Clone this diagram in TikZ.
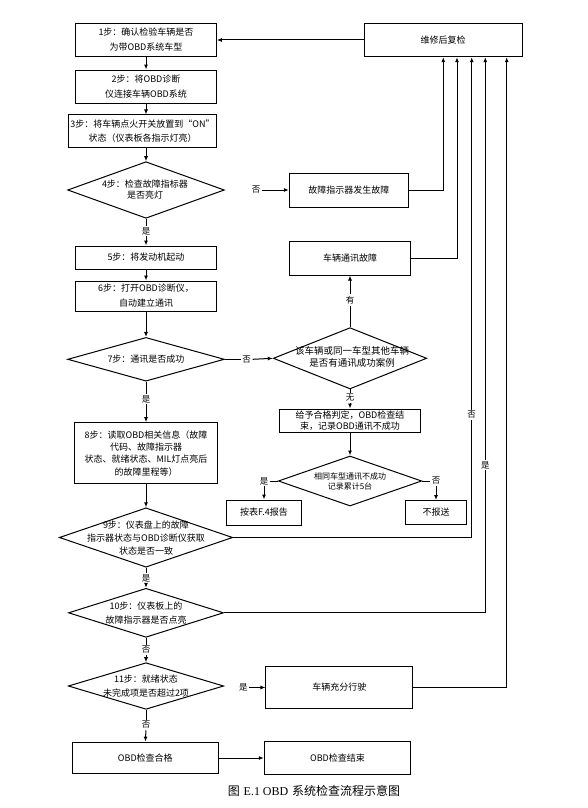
\documentclass[tikz,border=0pt]{standalone}
\usepackage{fontspec}
\newfontfamily\cjk{Noto Sans CJK SC}
\newfontfamily\serifl{Liberation Serif}
\usetikzlibrary{arrows.meta,shapes.geometric}
\tikzset{
  bx/.style={draw, line width=1pt, inner sep=1pt, align=center, font=\cjk\fontsize{9}{12}\selectfont},
  dia/.style={draw, diamond, line width=1pt, inner sep=0pt},
  dtxt/.style={align=center, font=\cjk\fontsize{9}{12}\selectfont, inner sep=0pt},
  lbl/.style={font=\cjk\fontsize{8.5}{10}\selectfont, inner sep=1.5pt},
  ln/.style={line width=1pt},
  arr/.style={line width=1pt, -{Latex[length=5pt,width=4pt]}},
}
\begin{document}
\begin{tikzpicture}[x=1pt,y=-1pt]
\useasboundingbox (0,0) rectangle (588,808);
% boxes
\node[bx, minimum width=158pt, minimum height=33.4pt] (recheck) at (443,40) {维修后复检};
\node[bx, minimum width=140.7pt, minimum height=33.4pt, font=\cjk\fontsize{9}{15}\selectfont] (b1) at (146,40) {1步：确认检验车辆是否\\为带OBD系统车型};
\node[bx, minimum width=140.7pt, minimum height=33.3pt, font=\cjk\fontsize{9}{15}\selectfont] (b2) at (146,86.7) {2步：将OBD诊断\\仪连接车辆OBD系统};
\node[bx, minimum width=148.4pt, minimum height=32.7pt, font=\cjk\fontsize{9}{14}\selectfont] (b3) at (142.5,131.3) {3步：将车辆点火开关放置到“ON”\\状态（仪表板各指示灯亮）};
\node[dia, minimum width=156.7pt, minimum height=56.6pt] (d4) at (146,190) {};
\node[dtxt, font=\cjk\fontsize{9}{11}\selectfont] (d4t) at (145,190) {4步：检查故障指标器\\是否亮灯};
\node[bx, minimum width=119pt, minimum height=34pt] (f1) at (348.8,190) {故障指示器发生故障};
\node[bx, minimum width=120.7pt, minimum height=34pt] (f2) at (350,258) {车辆通讯故障};
\node[bx, minimum width=141.3pt, minimum height=23pt] (b5) at (146,257.5) {5步：将发动机起动};
\node[bx, minimum width=141.3pt, minimum height=30pt, font=\cjk\fontsize{9}{15}\selectfont] (b6) at (146,296) {6步：打开OBD诊断仪，\\自动建立通讯};
\node[dia, minimum width=156.7pt, minimum height=43.7pt] (d7) at (146,359.3) {};
\node[dtxt] (d7t) at (146,359.3) {7步：通讯是否成功};
\node[dia, minimum width=153.4pt, minimum height=61.3pt] (d7b) at (350,358.3) {};
\node[dtxt, font=\cjk\fontsize{9.5}{12.3}\selectfont] (d7bt) at (352,357) {该车辆或同一车型其他车辆\\是否有通讯成功案例};
\node[bx, minimum width=141.4pt, minimum height=23.3pt, font=\cjk\fontsize{9}{11.7}\selectfont] (g) at (350,420.7) {给予合格判定，OBD检查结\\束，记录OBD通讯不成功};
\node[dia, minimum width=143.4pt, minimum height=50pt] (d5) at (350,481) {};
\node[dtxt, font=\cjk\fontsize{8}{10}\selectfont] (d5t) at (350,481) {相同车型通讯不成功\\记录累计5台};
\node[bx, minimum width=75pt, minimum height=25pt] (rep) at (264,512.5) {按表F.4报告};
\node[bx, minimum width=61pt, minimum height=24pt] (nrep) at (436,512.5) {不报送};
\node[bx, minimum width=142.3pt, minimum height=61.3pt, font=\cjk\fontsize{9}{12.3}\selectfont] (b8) at (146,453.3) {8步：读取OBD相关信息（故障\\代码、故障指示器\\状态、就绪状态、MIL灯点亮后\\的故障里程等）};
\node[dia, minimum width=173.3pt, minimum height=59.4pt] (d9) at (146,537.5) {};
\node[dtxt, font=\cjk\fontsize{9}{13}\selectfont] (d9t) at (146,538) {9步：仪表盘上的故障\\指示器状态与OBD诊断仪获取\\状态是否一致};
\node[dia, minimum width=155pt, minimum height=49pt] (d10) at (146,612.8) {};
\node[dtxt, font=\cjk\fontsize{9}{14}\selectfont] (d10t) at (146,613.5) {10步：仪表板上的\\故障指示器是否点亮};
\node[dia, minimum width=155.4pt, minimum height=46.6pt] (d11) at (146,686) {};
\node[dtxt, font=\cjk\fontsize{9}{13.3}\selectfont] (d11t) at (146,686) {11步：就绪状态\\未完成项是否超过2项};
\node[bx, minimum width=146.7pt, minimum height=42pt] (drive) at (339.3,687.5) {车辆充分行驶};
\node[bx, minimum width=146pt, minimum height=31.7pt] (ok) at (145.3,758) {OBD检查合格};
\node[bx, minimum width=146.4pt, minimum height=32.3pt] (end) at (337.5,758) {OBD检查结束};
\node[inner sep=0pt, font=\fontsize{12}{14}\selectfont] (cap) at (314,791) {{\cjk 图}\ {\serifl E.1 OBD} {\cjk 系统检查流程示意图}};
% labels
\node[lbl] (l4n) at (256,190) {否};
\node[lbl] (l4y) at (146,231) {是};
\node[lbl] (l7n) at (246.7,359.3) {否};
\node[lbl] (lh) at (350,300) {有};
\node[lbl] (lw) at (350,398) {无};
\node[lbl] (l7y) at (146,399) {是};
\node[lbl] (l5y) at (264,481) {是};
\node[lbl] (l5n) at (436,481) {否};
\node[lbl] (l9n) at (471.7,415) {否};
\node[lbl] (l10y) at (485.3,465) {是};
\node[lbl] (l9y) at (146,578) {是};
\node[lbl] (l10n) at (146,650) {否};
\node[lbl] (l11n) at (146,725) {否};
\node[lbl] (l11y) at (243.3,687.5) {是};
% helper coordinates for return lines
\coordinate (c1) at (443.3,0);
\coordinate (c2) at (457,0);
\coordinate (c5) at (506.7,0);
% main column
\draw[arr] (recheck.west) -- (b1.east);
\draw[arr] (b1.south) -- (b2.north);
\draw[arr] (b2.south) -- (b2.south |- b3.north);
\draw[arr] (b2.south |- b3.south) -- (d4.north);
\draw[ln] (d4.south) -- (l4y.north);
\draw[arr] (l4y.south) -- (b5.north);
\draw[arr] (b5.south) -- (b6.north);
\draw[arr] (b6.south) -- (d7.north);
\draw[ln] (d7.south) -- (l7y.north);
\draw[arr] (l7y.south) -- (b8.north);
\draw[arr] (b8.south) -- (d9.north);
\draw[ln] (d9.south) -- (l9y.north);
\draw[arr] (l9y.south) -- (d10.north);
\draw[ln] (d10.south) -- (l10n.north);
\draw[arr] (l10n.south) -- (d11.north);
\draw[ln] (d11.south) -- (l11n.north);
\draw[arr] (l11n.south) -- (ok.north);
\draw[arr] (ok.east) -- (end.west);
% side branches
\draw[arr] (l4n.east) -- (f1.west);
\draw[arr] (f1.east) -| (c1 |- recheck.south);
\draw[ln] (d7.east) -- (l7n.west);
\draw[arr] (l7n.east) -- (d7b.west);
\draw[ln] (d7b.north) -- (lh.south);
\draw[arr] (lh.north) -- (f2.south);
\draw[arr] (f2.east) -| (c2 |- recheck.south);
\draw[ln] (d7b.south) -- (lw.north);
\draw[arr] (lw.south) -- (g.north);
\draw[arr] (g.south) -- (d5.north);
\draw[ln] (d5.west) -- (l5y.east);
\draw[arr] (l5y.south) -- (rep.north);
\draw[ln] (d5.east) -- (l5n.west);
\draw[arr] (l5n.south) -- (nrep.north);
\draw[ln] (d9.east) -| (l9n.south);
\draw[arr] (l9n.north) -- (l9n.north |- recheck.south);
\draw[ln] (d10.east) -| (l10y.south);
\draw[arr] (l10y.north) -- (l10y.north |- recheck.south);
\draw[arr] (l11y.east) -- (drive.west);
\draw[arr] (drive.east) -| (c5 |- recheck.south);
\end{tikzpicture}
\end{document}
